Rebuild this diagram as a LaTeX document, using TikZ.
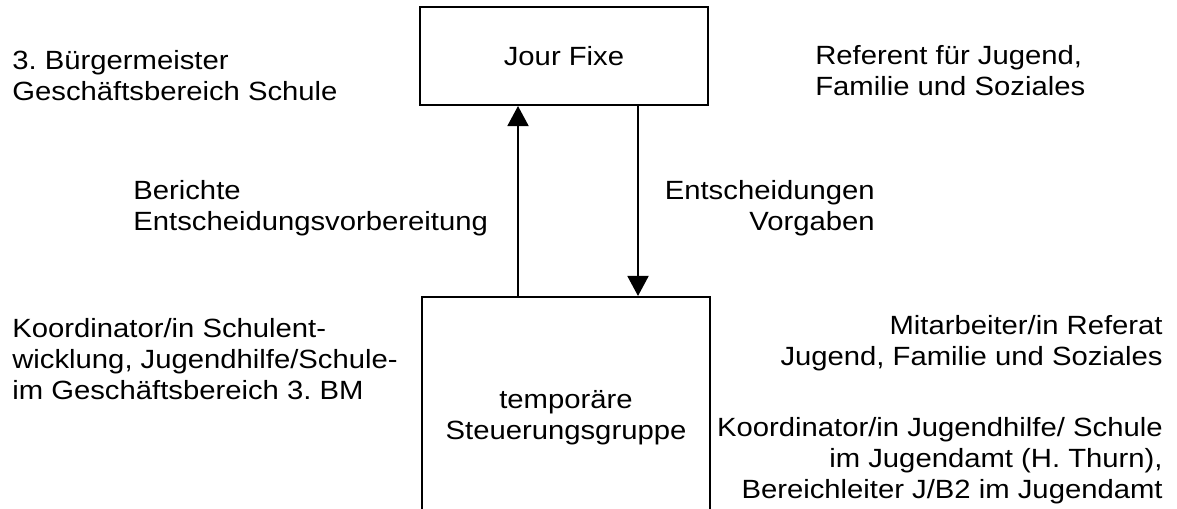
\documentclass[tikz,border=0pt]{standalone}
\usepackage{fontspec}
\setmainfont{Liberation Sans}[FakeStretch=1.11]
\usetikzlibrary{arrows.meta,positioning}
\frenchspacing

\begin{document}
\begin{tikzpicture}[x=0.02cm,y=-0.02cm,
    txt/.style={inner sep=0pt,font=\fontsize{15}{17.6}\selectfont,execute at begin node=\strut},
    box/.style={draw,line width=1.2pt,inner sep=0pt,minimum width=5.76cm,align=center,
        font=\fontsize{15}{17.6}\selectfont},
    flow/.style={line width=1.1pt,-{Triangle[width=0.42cm,length=0.4cm]}}]
\useasboundingbox (0,0) rectangle (1177,509);
\clip (0,0) rectangle (1177,509);
\node[box,minimum height=1.96cm] (jour) at (564,56) {Jour Fixe};
\node[box,minimum height=4.84cm] (steuer) at (566,418) {temporäre\\Steuerungsgruppe};
\coordinate (up) at (518,0);
\coordinate (down) at (638,0);
\draw[flow] (steuer.north -| up) -- (jour.south -| up);
\draw[flow] (jour.south -| down) -- (steuer.north -| down);
% Beschriftungen
\node[txt,anchor=north west,align=left] (bm) at (12,50) {3. Bürgermeister\\Geschäftsbereich Schule};
\node[txt,anchor=north west,align=left] (ref) at (815,45) {Referent für Jugend,\\Familie und Soziales};
\node[txt,anchor=north west,align=left] (ber) at (133,180) {Berichte\\Entscheidungsvorbereitung};
\node[txt,anchor=north east,align=right] (ent) at (875,180) {Entscheidungen\\Vorgaben};
\node[txt,anchor=north west,align=left] (koschule) at (12,318)
    {Koordinator/in Schulent-\\wicklung, Jugendhilfe/Schule-\\im Geschäftsbereich 3. BM};
\node[txt,anchor=north east,align=right] (mit) at (1163,315)
    {Mitarbeiter/in Referat\\Jugend, Familie und Soziales};
\node[txt,anchor=north east,align=right] (kojugend) at (1163,417)
    {Koordinator/in Jugendhilfe/ Schule\\im Jugendamt (H. Thurn),\\Bereichleiter J/B2 im Jugendamt};
\end{tikzpicture}
\end{document}
